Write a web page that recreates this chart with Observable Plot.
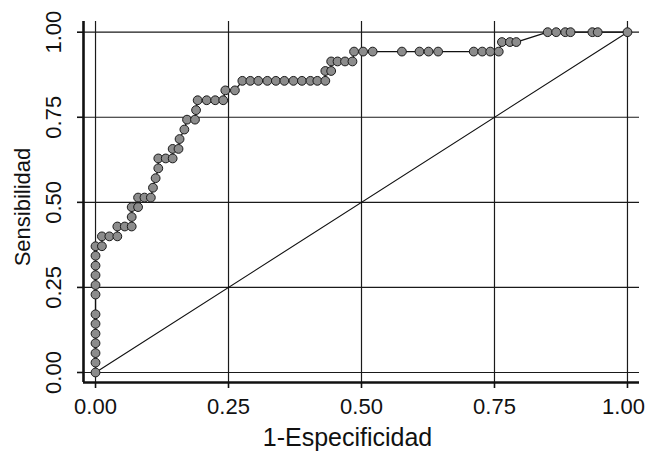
<!DOCTYPE html>
<html>
<head>
<meta charset="utf-8">
<script src="https://cdn.jsdelivr.net/npm/d3@7"></script>
<script src="https://cdn.jsdelivr.net/npm/@observablehq/plot@0.6"></script>
<style>
  html, body { margin: 0; padding: 0; background: #fff; }
  #chart svg { display: block; }
</style>
</head>
<body>
<div id="chart"></div>
<script>
// 1-Especificidad (false positive rate) for each ROC point
const fpr = [
  0, 0, 0, 0, 0, 0, 0,
  0, 0, 0, 0, 0,
  0, 0.012,
  0.012, 0.026, 0.041,
  0.041, 0.055, 0.068,
  0.068,
  0.068, 0.080,
  0.080, 0.092, 0.104,
  0.108,
  0.113,
  0.118,
  0.118, 0.132, 0.145,
  0.145, 0.156,
  0.158,
  0.167,
  0.172, 0.187,
  0.189,
  0.192, 0.209, 0.225, 0.240,
  0.244, 0.262,
  0.276, 0.291, 0.306, 0.323, 0.339, 0.355, 0.372, 0.388, 0.404, 0.417, 0.432,
  0.432, 0.443,
  0.443, 0.455, 0.469, 0.483,
  0.486, 0.503, 0.521, 0.576, 0.609, 0.626, 0.644, 0.711, 0.727, 0.742, 0.758,
  0.764, 0.779, 0.791,
  0.850, 0.866, 0.883, 0.893, 0.934, 0.944, 1.000
];
// Sensibilidad (true positive rate) for each ROC point
const tpr = [
  0, 0.029, 0.057, 0.086, 0.114, 0.143, 0.171,
  0.229, 0.257, 0.286, 0.314, 0.343,
  0.371, 0.371,
  0.400, 0.400, 0.400,
  0.429, 0.429, 0.429,
  0.457,
  0.486, 0.486,
  0.514, 0.514, 0.514,
  0.543,
  0.571,
  0.600,
  0.629, 0.629, 0.629,
  0.657, 0.657,
  0.686,
  0.714,
  0.743, 0.743,
  0.771,
  0.800, 0.800, 0.800, 0.800,
  0.829, 0.829,
  0.857, 0.857, 0.857, 0.857, 0.857, 0.857, 0.857, 0.857, 0.857, 0.857, 0.857,
  0.886, 0.886,
  0.914, 0.914, 0.914, 0.914,
  0.943, 0.943, 0.943, 0.943, 0.943, 0.943, 0.943, 0.943, 0.943, 0.943, 0.943,
  0.971, 0.971, 0.971,
  1, 1, 1, 1, 1, 1, 1
];
// reference (chance) line
const refX = [0, 1];
const refY = [0, 1];
// ticks and labels
const tickValues = [0, 0.25, 0.5, 0.75, 1];
const tickLabels = ["0.00", "0.25", "0.50", "0.75", "1.00"];
const xTitle = "1-Especificidad";
const yTitle = "Sensibilidad";

const roc = fpr.map((x, i) => ({x, y: tpr[i]}));
const ref = refX.map((x, i) => ({x, y: refY[i]}));
const fmt = d => tickLabels[tickValues.indexOf(d)];
const lastTick = tickValues[tickValues.length - 1];

const xDom = [-0.0226, 1.0226];
const yDom = [-0.0294, 1.0314];
const FONT = "'Liberation Sans', Arial, Helvetica, sans-serif";
const xAxisOpts = {
  tickSize: 6, tickPadding: 10, fontSize: 22,
  stroke: "#111", strokeWidth: 1.6, fill: "#111", label: null
};

const chart = Plot.plot({
  width: 646,
  height: 451,
  marginLeft: 83,
  marginRight: 7,
  marginTop: 21,
  marginBottom: 69,
  style: {fontFamily: FONT, background: "#fff", color: "#111"},
  x: {domain: xDom},
  y: {domain: yDom},
  marks: [
    Plot.gridX(tickValues, {stroke: "#1a1a1a", strokeOpacity: 1, strokeWidth: 1.2}),
    Plot.gridY(tickValues, {stroke: "#1a1a1a", strokeOpacity: 1, strokeWidth: 1.2}),
    Plot.line(ref, {x: "x", y: "y", stroke: "#111", strokeWidth: 1.1}),
    Plot.line(roc, {x: "x", y: "y", stroke: "#111", strokeWidth: 1.3}),
    Plot.dot(roc, {x: "x", y: "y", r: 4.4, fill: "#8c8c8c", stroke: "#1a1a1a", strokeWidth: 1}),
    Plot.ruleX([xDom[0]], {stroke: "#111", strokeWidth: 2.6}),
    Plot.ruleY([yDom[0]], {stroke: "#111", strokeWidth: 2.6}),
    // all x ticks; the last label is drawn separately, nudged inside the edge
    Plot.axisX(tickValues, {...xAxisOpts, tickFormat: d => d === lastTick ? "" : fmt(d)}),
    Plot.axisX([lastTick], {...xAxisOpts, tickSize: 0, tickPadding: 16, dx: -4, tickFormat: fmt}),
    Plot.axisY(tickValues, {
      tickFormat: fmt, tickSize: 6, tickPadding: 17, fontSize: 22,
      tickRotate: -90, textAnchor: "middle", lineAnchor: "bottom",
      stroke: "#111", strokeWidth: 1.6, fill: "#111", label: null
    }),
    Plot.text([xTitle], {frameAnchor: "bottom", dy: 55, dx: -14, text: d => d, fontSize: 25, fill: "#111", textAnchor: "middle", lineAnchor: "middle"}),
    Plot.text([yTitle], {frameAnchor: "left", dx: -61, dy: 5, rotate: -90, text: d => d, fontSize: 22, fill: "#111", textAnchor: "middle", lineAnchor: "middle"})
  ]
});
document.getElementById("chart").appendChild(chart);
</script>
</body>
</html>
